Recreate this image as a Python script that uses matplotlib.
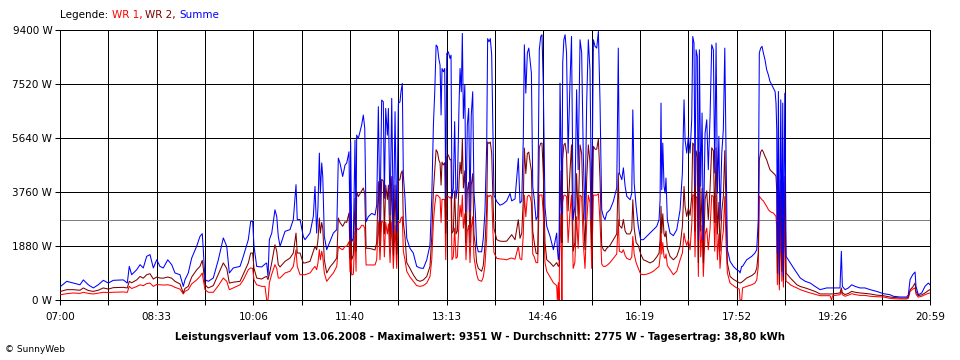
import matplotlib
matplotlib.use("Agg")
import matplotlib.pyplot as plt

# minutes after 07:00, power in W (WR 1, WR 2 and the sum)
t_min = [
    0.7, 6.5, 12.8, 19.3, 22.5, 27.3, 32.1, 36.9, 41.8, 46.6, 51.4, 61.0, 64.9, 66.8, 69.1,
    74.0, 77.2, 80.3, 83.6, 86.8, 90.0, 93.3, 96.4, 99.6, 103.9, 107.7, 110.9, 115.7, 118.9,
    120.5, 123.7, 127.0, 131.8, 135.0, 137.2, 138.2, 139.8, 143.0, 147.8, 152.7, 157.5, 160.8,
    163.3, 167.1, 173.6, 176.8, 181.6, 183.9, 185.8, 187.1, 189.7, 194.5, 197.7, 199.3, 200.6,
    201.9, 204.2, 207.3, 209.0, 210.5, 212.2, 217.0, 221.8, 225.0, 227.6, 228.8, 231.5, 234.6,
    236.3, 241.1, 244.3, 245.9, 247.5, 248.8, 250.1, 251.1, 252.4, 253.4, 254.9, 257.2, 260.4,
    263.6, 266.9, 268.4, 270.0, 272.6, 274.9, 276.5, 278.7, 279.7, 280.3, 281.3, 282.9, 284.5,
    285.5, 286.1, 287.7, 289.3, 290.9, 292.5, 293.9, 295.2, 297.3, 300.6, 303.8, 305.4, 307.0,
    308.6, 310.2, 311.8, 312.8, 314.1, 315.7, 316.7, 318.3, 319.9, 321.5, 323.1, 324.7, 326.3,
    327.9, 328.8, 330.1, 331.1, 332.7, 334.4, 337.5, 340.7, 344.0, 347.2, 350.4, 353.7, 356.8,
    358.5, 360.1, 361.4, 362.7, 364.0, 365.3, 366.5, 367.5, 368.4, 369.7, 371.0, 372.0, 373.0,
    374.5, 376.1, 377.1, 378.0, 379.3, 380.6, 381.9, 383.2, 384.8, 385.8, 387.0, 388.0, 389.0,
    390.4, 391.5, 392.8, 394.1, 395.4, 396.6, 398.0, 399.2, 400.5, 401.8, 403.4, 406.6, 408.2,
    409.8, 411.5, 412.4, 413.7, 415.0, 416.3, 417.6, 418.5, 421.2, 424.3, 427.5, 430.8, 434.0,
    435.6, 438.8, 442.0, 443.6, 445.3, 446.8, 447.8, 449.2, 450.7, 452.1, 453.3, 454.6, 455.9,
    457.4, 459.1, 460.7, 462.2, 463.6, 464.8, 466.1, 467.7, 469.4, 472.6, 475.8, 479.0, 479.6,
    480.6, 481.3, 482.2, 483.5, 484.0, 484.8, 485.9, 487.1, 488.5, 490.0, 491.7, 493.3, 494.9,
    496.5, 498.2, 499.7, 501.5, 503.1, 504.6, 506.3, 507.9, 509.5, 511.1, 512.8, 514.4, 516.0,
    517.6, 519.2, 520.8, 522.4, 524.0, 525.6, 527.3, 530.4, 533.6, 536.9, 538.4, 539.4, 541.8,
    543.3, 545.0, 546.6, 549.8, 551.4, 552.4, 553.7, 555.6, 557.7, 560.0, 562.6, 565.8, 569.0,
    572.2, 575.5, 577.7, 578.7, 579.6, 580.3, 581.3, 582.5, 583.5, 584.4, 585.7, 588.3, 591.5,
    594.8, 598.0, 600.2, 601.8, 602.8, 604.4, 606.0, 607.6, 609.2, 610.2, 611.4, 612.4, 613.4,
    614.6, 615.6, 616.6, 617.9, 619.2, 620.4, 622.1, 623.7, 625.2, 626.9, 628.5, 630.1, 631.4,
    632.7, 634.0, 635.4, 636.5, 638.2, 639.7, 641.1, 642.3, 643.6, 646.2, 649.4, 652.6, 655.1,
    655.8, 657.4, 658.2, 662.2, 667.1, 670.2, 671.9, 673.4, 674.4, 675.7, 677.0, 678.3, 679.9,
    681.5, 683.1, 684.7, 686.3, 687.9, 689.6, 690.5, 691.2, 691.8, 692.8, 693.7, 695.1, 696.1,
    697.0, 697.6, 699.0, 700.2, 702.4, 704.3, 707.4, 710.7, 713.9, 718.7, 723.5, 728.1, 733.0,
    739.4, 742.6, 744.1, 745.0, 752.2, 753.5, 754.5, 757.1, 760.3, 763.5, 766.7, 771.5, 776.3,
    781.2, 787.6, 794.0, 800.4, 803.6, 810.1, 816.6, 818.1, 819.8, 822.3, 824.6, 825.5, 827.7,
    831.0, 834.2, 837.4, 839.0,
]

summe = [
    476, 650, 590, 530, 700, 530, 420, 530, 685, 590, 685, 700, 590, 1170, 880,
    1055, 1230, 1115, 1520, 1580, 1115, 1400, 1170, 1115, 1400, 1230, 940, 880, 475,
    700, 940, 1460, 1870, 2215, 2310, 1750, 710, 650, 765, 1400, 2160, 1870,
    940, 1115, 1170, 1520, 2100, 2740, 2740, 1870, 1170, 1150, 1250, 1290, 820,
    2100, 2330, 3140, 2910, 2215, 1870, 2390, 2450, 2800, 4015, 2800, 2800, 2215,
    2100, 2330, 2910, 3955, 2330, 3260, 5115, 3720, 4770, 4300, 2215, 1750, 2040,
    2330, 2450, 4940, 4770, 4300, 4700, 4770, 5160, 2145, 5510, 2030, 2145, 5570,
    2380, 5740, 5625, 5860, 6090, 6440, 5975, 2725, 2900, 3015, 2960, 3300, 6730,
    2725, 6960, 6900, 3540, 6670, 5740, 6670, 2960, 7020, 2380, 6555, 2380, 6845,
    6900, 7250, 7540, 4350, 3540, 2145, 1800, 1635, 1170, 1115, 1100, 1400, 1915,
    3540, 6090, 7250, 8875, 8815, 8410, 8180, 6440, 8060, 7945, 8060, 3540, 8585,
    8640, 8410, 8525, 3540, 3890, 6210, 3540, 3890, 6790, 8060, 7250, 9280, 6320,
    7480, 3075, 6090, 6670, 3075, 6440, 7250, 3770, 3075, 1915, 1680, 1680, 2145,
    3075, 5395, 9100, 8990, 9100, 8525, 5510, 3650, 3430, 3300, 3350, 3450, 3710,
    3450, 3520, 4930, 3375, 3450, 5630, 8885, 7200, 8600, 8770, 8360, 7900, 3955,
    3490, 2795, 2910, 8710, 9175, 9235, 7435, 3260, 2565, 2215, 1750, 2330, 1800,
    1400, 1600, 7550, 4535, 3000, 8250, 9060, 9235, 8600, 5115, 7435, 9175, 2795,
    3260, 7320, 4535, 9060, 8600, 5115, 2795, 6855, 9060, 8015, 2795, 9060, 8830,
    8770, 9351, 6855, 3145, 2910, 2795, 3030, 3145, 3430, 3900, 8770, 4420, 4190,
    4600, 3955, 3610, 3490, 3720, 6620, 4070, 3260, 2565, 2100, 2100, 2215, 2330,
    2450, 2565, 2795, 3490, 6855, 3840, 5465, 3955, 3720, 4245, 2795, 2330, 2240,
    2450, 3145, 4420, 6970, 5580, 5115, 5700, 5115, 6275, 9175, 8945, 3955, 8710,
    8480, 2100, 8710, 3955, 6510, 2100, 5810, 6275, 4535, 6390, 8885, 8710, 4420,
    8945, 3720, 5700, 2795, 5115, 5930, 8770, 5115, 1750, 1345, 1170, 1055, 1000,
    940, 1170, 1170, 1400, 1520, 1635, 1750, 2795, 8600, 8770, 8830, 8600, 8360,
    8015, 7840, 7610, 7495, 7380, 7260, 6855, 5930, 1635, 7260, 900, 6970, 1635,
    6855, 820, 7200, 1520, 1400, 1290, 1115, 940, 765, 650, 590, 475, 360,
    420, 420, 420, 420, 420, 1695, 475, 360, 420, 530, 475, 420, 420,
    360, 300, 220, 185, 130, 105, 105, 185, 710, 880, 975, 475, 185,
    245, 475, 590, 530,
]

wr2 = [
    300, 360, 360, 340, 420, 330, 300, 340, 420, 380, 430, 440, 420, 650, 600,
    700, 820, 760, 880, 915, 730, 800, 765, 760, 800, 760, 650, 560, 245,
    400, 475, 800, 1050, 1170, 1380, 1100, 530, 420, 500, 900, 1290, 1100,
    590, 620, 650, 900, 1290, 1635, 1635, 1100, 765, 730, 800, 820, 710,
    900, 1300, 1925, 1700, 1230, 1150, 1345, 1460, 1635, 2330, 1635, 1635, 1290,
    1290, 1345, 1700, 1870, 1750, 2100, 2855, 2330, 2700, 2500, 1400, 940, 1150,
    1290, 1460, 2855, 2700, 2565, 2725, 2700, 3030, 1450, 3400, 1400, 1565, 3540,
    1700, 3770, 3600, 3700, 3800, 3900, 3700, 1800, 1800, 1780, 1740, 2000, 4120,
    1900, 4200, 4150, 2300, 4000, 3500, 4000, 1900, 4300, 1560, 4000, 1600, 4150,
    4200, 4400, 4500, 2700, 2200, 1300, 1100, 880, 700, 650, 700, 820, 1170,
    2200, 3800, 4500, 5230, 5150, 4880, 4770, 4000, 4800, 4700, 4780, 2330, 5000,
    5050, 4880, 4900, 2330, 2400, 3800, 2300, 2400, 4100, 4800, 4400, 5600, 3900,
    4500, 2000, 3800, 4100, 2000, 4000, 4400, 2300, 1900, 1300, 1100, 1000, 1200,
    1900, 3200, 5500, 5450, 5500, 5100, 3400, 2500, 2100, 2050, 2040, 2050, 2200,
    2275, 2100, 2795, 2150, 2330, 3500, 5290, 4400, 5100, 5150, 4800, 4500, 2400,
    2000, 1635, 1600, 5300, 5460, 5460, 4400, 2000, 1400, 1300, 1170, 1300, 1250,
    1170, 1200, 4500, 2800, 2000, 4900, 5400, 5460, 5100, 3100, 4400, 5400, 1700,
    2000, 4400, 2800, 5400, 5100, 3100, 1750, 4200, 5400, 4800, 1800, 5350, 5250,
    5250, 5600, 4200, 1900, 1750, 1700, 1800, 1900, 2100, 2300, 4420, 2600, 2500,
    2800, 2400, 2300, 2300, 2450, 3490, 2500, 2000, 1900, 1600, 1400, 1350, 1290,
    1350, 1500, 1635, 2100, 3260, 2330, 3000, 2300, 2200, 2400, 1800, 1520, 1400,
    1520, 1870, 2565, 3955, 3260, 2910, 3200, 2950, 3600, 5465, 5400, 2400, 5200,
    5000, 1300, 5150, 2400, 3900, 1300, 3500, 3800, 2800, 3900, 5300, 5200, 2700,
    5300, 2300, 3400, 1700, 3100, 3600, 5200, 3100, 1290, 820, 720, 650, 600,
    590, 620, 640, 765, 850, 940, 1100, 1635, 4880, 5150, 5230, 5150, 5000,
    4880, 4700, 4535, 4480, 4420, 4360, 4300, 3800, 940, 4300, 550, 4200, 1000,
    4100, 700, 4300, 940, 850, 765, 650, 530, 470, 420, 360, 300, 210,
    210, 210, 210, 210, 245, 420, 245, 190, 230, 300, 270, 245, 230,
    210, 170, 150, 105, 90, 70, 70, 110, 360, 450, 590, 300, 150,
    180, 245, 330, 360,
]

wr1 = [
    185, 220, 245, 230, 267, 230, 210, 240, 267, 260, 270, 280, 267, 475, 400,
    470, 530, 500, 570, 590, 475, 540, 530, 520, 530, 500, 440, 380, 210,
    300, 360, 560, 700, 820, 940, 700, 360, 270, 267, 500, 765, 650,
    360, 420, 530, 700, 1055, 1115, 1100, 700, 530, 475, 475, 0, 0,
    600, 900, 1230, 1100, 765, 765, 940, 1000, 1170, 1750, 1170, 880, 880,
    880, 940, 1100, 1170, 1055, 1300, 1750, 1400, 1700, 1500, 940, 650, 800,
    940, 1170, 1870, 1800, 1750, 1870, 1870, 2030, 985, 2300, 870, 900, 2380,
    1000, 2500, 2450, 2500, 2600, 2600, 2500, 1220, 1220, 1220, 1220, 1400, 2725,
    1400, 2750, 2700, 1500, 2700, 2300, 2650, 1300, 2720, 1100, 2600, 1100, 2700,
    2700, 2850, 2900, 1700, 1400, 1000, 800, 650, 500, 475, 500, 590, 820,
    1400, 2700, 3300, 3650, 3650, 3600, 3550, 2700, 3500, 3500, 3500, 1400, 3600,
    3600, 3550, 3600, 1400, 1500, 2500, 1450, 1500, 2700, 3300, 2900, 3650, 2500,
    3000, 1400, 2400, 2600, 1300, 2500, 2900, 1500, 1200, 900, 700, 650, 800,
    1200, 2200, 3650, 3600, 3650, 3600, 2300, 1650, 1450, 1430, 1420, 1400, 1450,
    1460, 1420, 1870, 1440, 1400, 2300, 3650, 2900, 3600, 3650, 3600, 3400, 1600,
    1500, 1300, 1300, 3650, 3650, 3660, 3000, 1300, 1000, 800, 600, 500, 0,
    600, 0, 3000, 1700, 0, 3400, 3650, 3650, 3600, 2000, 3000, 3650, 1100,
    1300, 2900, 1800, 3650, 3600, 2000, 1100, 2700, 3650, 3400, 1100, 3650, 3650,
    3650, 3700, 2700, 1250, 1170, 1170, 1200, 1300, 1450, 1600, 2795, 1700, 1650,
    1750, 1550, 1450, 1400, 1500, 2215, 1600, 1300, 1100, 900, 880, 900, 940,
    1000, 1100, 1170, 1500, 2565, 1600, 2000, 1500, 1450, 1600, 1200, 1055, 880,
    1000, 1400, 1635, 2330, 2100, 1900, 2100, 1750, 2600, 3665, 3650, 1500, 3600,
    3550, 820, 3600, 1500, 2600, 820, 2300, 2500, 1750, 2500, 3650, 3600, 1700,
    3650, 1400, 2300, 1100, 2000, 2400, 3600, 2000, 940, 590, 500, 420, 380,
    0, 0, 420, 475, 530, 590, 700, 1170, 3610, 3550, 3490, 3450, 3350,
    3260, 3150, 3085, 3050, 3030, 2950, 2910, 2500, 530, 2900, 350, 2800, 650,
    2700, 450, 2900, 650, 600, 530, 470, 420, 360, 300, 245, 200, 150,
    150, 150, 0, 150, 185, 300, 185, 130, 170, 220, 190, 160, 160,
    130, 115, 105, 58, 45, 35, 35, 60, 300, 380, 420, 200, 100,
    130, 185, 230, 245,
]

y_ticks = [0, 1880, 3760, 5640, 7520, 9400]
x_labels = ["07:00", "08:33", "10:06", "11:40", "13:13", "14:46", "16:19", "17:52", "19:26", "20:59"]
day_span = 839          # 07:00 .. 20:59
avg_w = 2775

fig = plt.figure(figsize=(9.6, 3.6), dpi=100)
ax = fig.add_axes([60 / 960, 60 / 360, 870 / 960, 270 / 360])

lw = 0.75   # data lines, about one pixel
glw = 0.5   # grid and frame, aliased -> one crisp pixel
ax.plot(t_min, wr1, color="#ff0000", lw=lw, zorder=3)
ax.plot(t_min, wr2, color="#800000", lw=lw, zorder=3)
ax.plot(t_min, summe, color="#0000ff", lw=lw, zorder=4)
ax.axhline(avg_w, color="#808080", lw=glw, zorder=2, antialiased=False)

ax.set_xlim(0, day_span)
ax.set_ylim(0, 9400)

xpos = [day_span * i / 18 for i in range(19)]
xlab = []
for i in range(19):
    xlab.append(x_labels[i // 2] if i % 2 == 0 else "")
ax.set_xticks(xpos)
ax.set_xticklabels(xlab)
ax.set_yticks(y_ticks)
ax.set_yticklabels([f"{v} W" for v in y_ticks])
ax.grid(True, color="black", lw=glw, zorder=1, antialiased=False)
ax.set_axisbelow(True)
ax.tick_params(axis="both", direction="out", length=3.5, width=lw, colors="black",
               labelsize=7.5, pad=2)
ax.tick_params(axis="x", pad=5)
for s in ax.spines.values():
    s.set_color("black")
    s.set_linewidth(glw)
    s.set_antialiased(False)

fig.text(0.5, 1 - 337 / 360,
         "Leistungsverlauf vom 13.06.2008 - Maximalwert: 9351 W - Durchschnitt: 2775 W - Tagesertrag: 38,80 kWh",
         ha="center", va="center", fontsize=7.3, fontweight="bold")
fig.text(5 / 960, 1 - 350 / 360, "\u00a9 SunnyWeb", ha="left", va="center", fontsize=6.5)

# legend line on top, drawn piece by piece
renderer = fig.canvas.get_renderer()
x = 60 / 960
for txt, col in [("Legende: ", "black"), ("WR 1, ", "#ff0000"), ("WR 2, ", "#800000"), ("Summe", "#0000ff")]:
    t = fig.text(x, 1 - 15 / 360, txt, color=col, fontsize=7.5, ha="left", va="center")
    bb = t.get_window_extent(renderer)
    x += bb.width / fig.bbox.width

fig.savefig("out.png", dpi=100)
